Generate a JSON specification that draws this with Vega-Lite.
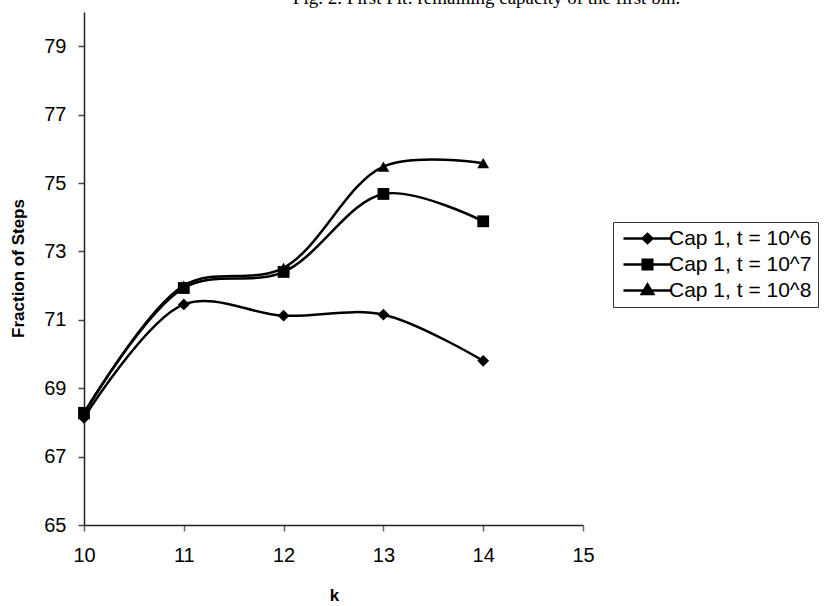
{
  "$schema": "https://vega.github.io/schema/vega-lite/v6.json",
  "autosize": {"type": "none"},
  "width": 499,
  "height": 513,
  "padding": {"left": 84, "top": 12, "right": 247, "bottom": 81},
  "background": "white",
  "title": {
    "text": "Fig. 2. First Fit: remaining capacity of the first bin.",
    "font": "Liberation Serif",
    "fontSize": 19,
    "fontWeight": "normal",
    "color": "#000",
    "anchor": "middle",
    "baseline": "alphabetic",
    "offset": 0,
    "dx": 153,
    "dy": 11
  },
  "config": {
    "view": {"stroke": null},
    "font": "Liberation Sans"
  },
  "data": {
    "values": [
      {"k": 10, "v": 68.13, "s": "Cap 1, t = 10^6"},
      {"k": 11, "v": 71.45, "s": "Cap 1, t = 10^6"},
      {"k": 12, "v": 71.12, "s": "Cap 1, t = 10^6"},
      {"k": 13, "v": 71.15, "s": "Cap 1, t = 10^6"},
      {"k": 14, "v": 69.8, "s": "Cap 1, t = 10^6"},
      {"k": 10, "v": 68.28, "s": "Cap 1, t = 10^7"},
      {"k": 11, "v": 71.93, "s": "Cap 1, t = 10^7"},
      {"k": 12, "v": 72.4, "s": "Cap 1, t = 10^7"},
      {"k": 13, "v": 74.68, "s": "Cap 1, t = 10^7"},
      {"k": 14, "v": 73.88, "s": "Cap 1, t = 10^7"},
      {"k": 10, "v": 68.24, "s": "Cap 1, t = 10^8"},
      {"k": 11, "v": 72.0, "s": "Cap 1, t = 10^8"},
      {"k": 12, "v": 72.52, "s": "Cap 1, t = 10^8"},
      {"k": 13, "v": 75.48, "s": "Cap 1, t = 10^8"},
      {"k": 14, "v": 75.58, "s": "Cap 1, t = 10^8"}
    ]
  },
  "encoding": {
    "x": {
      "field": "k",
      "type": "quantitative",
      "scale": {"domain": [10, 15], "nice": false, "zero": false},
      "axis": {
        "title": "k",
        "values": [10, 11, 12, 13, 14, 15],
        "format": "d",
        "grid": false,
        "domainColor": "#222",
        "domainWidth": 1.5,
        "tickColor": "#666",
        "tickWidth": 1.5,
        "tickSize": 6,
        "labelFontSize": 20,
        "labelColor": "#000",
        "labelPadding": 14,
        "labelFlush": false,
        "titleFontSize": 17,
        "titleFontWeight": "bold",
        "titleColor": "#000",
        "titleX": 250,
        "titleY": 70,
        "titleBaseline": "middle"
      }
    },
    "y": {
      "field": "v",
      "type": "quantitative",
      "scale": {"domain": [65, 80], "nice": false, "zero": false},
      "axis": {
        "title": "Fraction of Steps",
        "values": [65, 67, 69, 71, 73, 75, 77, 79],
        "grid": false,
        "domainColor": "#222",
        "domainWidth": 1.5,
        "tickColor": "#444",
        "tickWidth": 1.5,
        "tickSize": 6,
        "labelFontSize": 20,
        "labelColor": "#000",
        "labelPadding": 12,
        "labelFlush": false,
        "titleFontSize": 17,
        "titleFontWeight": "bold",
        "titleColor": "#000",
        "titleX": -66,
        "titleY": 256,
        "titleBaseline": "middle"
      }
    }
  },
  "resolve": {"scale": {"shape": "independent"}, "legend": {"shape": "independent"}},
  "layer": [
    {
      "mark": {"type": "line", "interpolate": "catmull-rom", "color": "black", "strokeWidth": 2.5},
      "encoding": {"detail": {"field": "s"}}
    },
    {
      "mark": {"type": "point", "filled": true, "color": "black", "opacity": 1, "size": 140},
      "encoding": {
        "shape": {
          "field": "s",
          "type": "nominal",
          "scale": {
            "domain": ["Cap 1, t = 10^6", "Cap 1, t = 10^7", "Cap 1, t = 10^8"],
            "range": ["diamond", "square", "triangle-up"]
          },
          "legend": null
        }
      }
    },
    {
      "mark": {"type": "point", "filled": false, "color": "black", "strokeWidth": 2.5, "size": 0},
      "encoding": {
        "shape": {
          "field": "s",
          "type": "nominal",
          "scale": {
            "domain": ["Cap 1, t = 10^6", "Cap 1, t = 10^7", "Cap 1, t = 10^8"],
            "range": [
              "M-1,0H7M2.2,0L3,-0.75L3.8,0L3,0.75ZM2.65,-0.35H3.35M2.65,0.35H3.35",
              "M-1,0H7M2.2,-0.8H3.8V0.8H2.2ZM2.2,-0.4H3.8M2.2,0.4H3.8",
              "M-1,0H7M2.05,0.6L3.95,0.6L3,-1ZM2.45,0.25H3.55M2.7,-0.3H3.3"
            ]
          },
          "legend": {
            "title": null,
            "orient": "none",
            "legendX": 529,
            "legendY": 210,
            "padding": 6,
            "strokeColor": "#333",
            "fillColor": "white",
            "symbolSize": 144,
            "symbolStrokeColor": "black",
            "symbolStrokeWidth": 2.5,
            "symbolOpacity": 1,
            "labelFontSize": 21,
            "labelColor": "#000",
            "labelOffset": 29,
            "rowPadding": 4
          }
        }
      }
    }
  ]
}
